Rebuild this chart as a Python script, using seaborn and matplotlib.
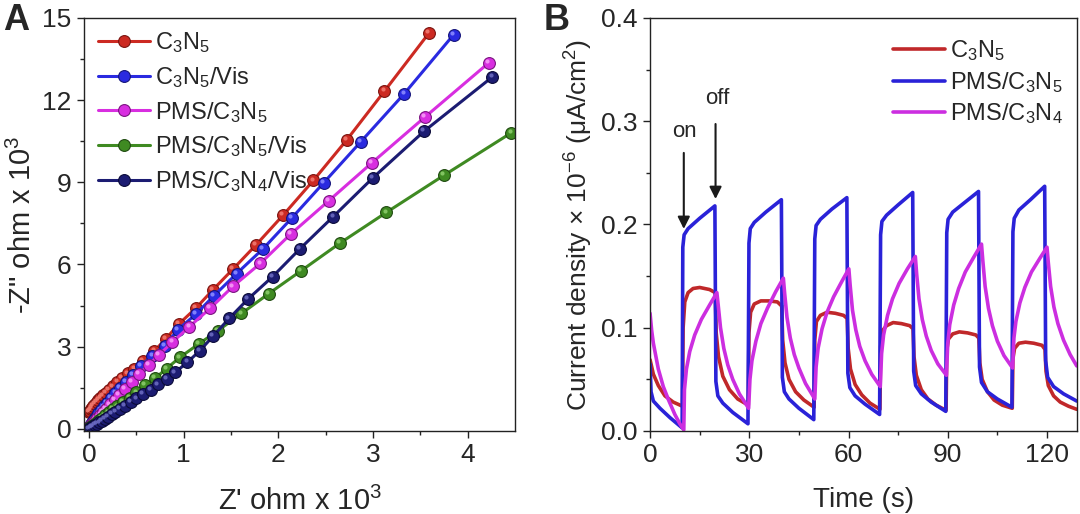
import matplotlib
matplotlib.use("Agg")
import matplotlib.pyplot as plt
from matplotlib.transforms import ScaledTranslation
import seaborn as sns
import pandas as pd

# ---------------- panel A: Nyquist plots (Z' vs -Z'', x 10^3 ohm)
red_x = [0.00, 0.01, 0.02, 0.03, 0.045, 0.06, 0.08, 0.10, 0.12, 0.15, 0.18, 0.21, 0.25, 0.30, 0.35,
         0.41, 0.48, 0.57, 0.69, 0.81, 0.95, 1.13, 1.31, 1.52, 1.76, 2.05, 2.37, 2.72, 3.12, 3.59]
red_y = [0.62, 0.66, 0.71, 0.76, 0.83, 0.90, 0.98, 1.05, 1.12, 1.22, 1.32, 1.42, 1.55, 1.70, 1.86,
         2.02, 2.20, 2.49, 2.84, 3.28, 3.83, 4.41, 5.08, 5.83, 6.70, 7.80, 9.07, 10.54, 12.33, 14.45]

blue_x = [0.00, 0.01, 0.02, 0.03, 0.045, 0.06, 0.08, 0.10, 0.13, 0.16, 0.19, 0.23, 0.28, 0.33, 0.39,
          0.46, 0.55, 0.67, 0.80, 0.94, 1.13, 1.32, 1.56, 1.84, 2.14, 2.48, 2.87, 3.33, 3.85]
blue_y = [0.07, 0.11, 0.16, 0.22, 0.30, 0.38, 0.48, 0.58, 0.70, 0.82, 0.96, 1.12, 1.30, 1.50, 1.72,
          1.98, 2.31, 2.67, 3.04, 3.62, 4.19, 4.86, 5.67, 6.58, 7.69, 8.99, 10.48, 12.24, 14.39]

mag_x = [0.00, 0.01, 0.02, 0.035, 0.05, 0.07, 0.09, 0.12, 0.15, 0.18, 0.22, 0.27, 0.32, 0.38, 0.45,
         0.53, 0.63, 0.74, 0.88, 1.06, 1.28, 1.52, 1.81, 2.13, 2.53, 2.99, 3.55, 4.22]
mag_y = [0.05, 0.08, 0.13, 0.19, 0.25, 0.33, 0.41, 0.51, 0.62, 0.74, 0.89, 1.06, 1.25, 1.47, 1.72,
         2.00, 2.33, 2.70, 3.16, 3.73, 4.40, 5.20, 6.04, 7.11, 8.32, 9.72, 11.39, 13.36]

green_x = [0.00, 0.015, 0.03, 0.045, 0.065, 0.085, 0.11, 0.14, 0.17, 0.21, 0.25, 0.30, 0.36, 0.43,
           0.50, 0.59, 0.70, 0.82, 0.96, 1.16, 1.36, 1.61, 1.90, 2.24, 2.65, 3.14, 3.75, 4.46]
green_y = [0.03, 0.06, 0.10, 0.14, 0.19, 0.25, 0.32, 0.40, 0.49, 0.60, 0.72, 0.82, 0.97, 1.14,
           1.33, 1.60, 1.85, 2.20, 2.61, 3.10, 3.58, 4.21, 4.94, 5.77, 6.78, 7.90, 9.26, 10.81]

navy_x = [0.00, 0.015, 0.03, 0.045, 0.065, 0.085, 0.11, 0.135, 0.165, 0.20, 0.24, 0.28, 0.33, 0.38,
          0.44, 0.50, 0.57, 0.65, 0.73, 0.82, 0.91, 1.04, 1.17, 1.31, 1.48, 1.68, 1.94, 2.23, 2.58,
          3.00, 3.54, 4.26]
navy_y = [0.00, 0.03, 0.06, 0.09, 0.13, 0.18, 0.23, 0.29, 0.36, 0.44, 0.53, 0.62, 0.73, 0.84,
          0.97, 1.11, 1.26, 1.43, 1.62, 1.82, 2.06, 2.43, 2.85, 3.38, 4.03, 4.74, 5.56, 6.58, 7.75,
          9.17, 10.87, 12.85]

# ---------------- panel B: photocurrent response
blue_t = [0.0, 0.3, 1.0, 3.0, 6.0, 9.7,
          9.9, 10.3, 11.5, 15.0, 19.6,
          19.9, 20.5, 22.0, 25.0, 29.6,
          29.9, 30.3, 31.5, 35.0, 39.7,
          40.0, 40.6, 42.0, 45.0, 49.5,
          49.8, 50.2, 51.5, 55.0, 59.5,
          59.8, 60.4, 62.0, 65.0, 69.4,
          69.7, 70.1, 71.5, 75.0, 79.4,
          79.7, 80.3, 82.0, 85.0, 89.4,
          89.7, 90.1, 91.5, 95.0, 99.3,
          99.6, 100.2, 102.0, 105.0, 109.4,
          109.7, 110.1, 111.5, 115.0, 119.3,
          119.6, 120.2, 122.0, 125.0, 129.0]
blue_j = [0.065, 0.038, 0.029, 0.022, 0.013, 0.003,
          0.178, 0.190, 0.196, 0.206, 0.218,
          0.048, 0.034, 0.027, 0.018, 0.007,
          0.182, 0.196, 0.202, 0.212, 0.224,
          0.052, 0.038, 0.031, 0.022, 0.011,
          0.186, 0.199, 0.205, 0.215, 0.226,
          0.056, 0.042, 0.034, 0.026, 0.016,
          0.190, 0.203, 0.209, 0.219, 0.231,
          0.058, 0.044, 0.036, 0.028, 0.019,
          0.192, 0.205, 0.212, 0.221, 0.232,
          0.062, 0.047, 0.038, 0.031, 0.023,
          0.193, 0.206, 0.214, 0.224, 0.237,
          0.068, 0.052, 0.043, 0.036, 0.029]

red_t = [0.0, 1.0, 2.5, 4.5, 7.0, 9.8,
         10.0, 10.5, 11.5, 13.0, 15.0, 18.0, 19.7,
         20.0, 20.7, 22.0, 24.0, 26.5, 29.7,
         29.9, 30.4, 31.5, 33.5, 36.0, 38.5, 39.8,
         40.1, 40.8, 42.0, 44.0, 46.5, 49.6,
         49.8, 50.3, 51.5, 53.5, 56.0, 58.5, 59.6,
         59.9, 60.6, 62.0, 64.0, 66.5, 69.5,
         69.7, 70.2, 71.5, 73.5, 76.0, 78.5, 79.5,
         79.8, 80.5, 82.0, 84.0, 86.5, 89.5,
         89.7, 90.2, 91.5, 93.5, 96.0, 98.5, 99.4,
         99.7, 100.4, 102.0, 104.0, 106.5, 109.5,
         109.7, 110.2, 111.5, 113.5, 116.0, 118.5, 119.4,
         119.7, 120.4, 122.0, 124.0, 126.5, 129.0]
red_j = [0.069, 0.055, 0.044, 0.034, 0.028, 0.024,
         0.100, 0.125, 0.134, 0.138, 0.139, 0.137, 0.134,
         0.095, 0.072, 0.053, 0.040, 0.031, 0.025,
         0.095, 0.115, 0.123, 0.126, 0.126, 0.125, 0.121,
         0.088, 0.066, 0.050, 0.038, 0.030, 0.023,
         0.088, 0.106, 0.112, 0.115, 0.114, 0.112, 0.109,
         0.080, 0.060, 0.045, 0.035, 0.027, 0.021,
         0.082, 0.097, 0.102, 0.105, 0.104, 0.102, 0.099,
         0.072, 0.054, 0.040, 0.031, 0.025, 0.020,
         0.078, 0.089, 0.094, 0.096, 0.095, 0.093, 0.090,
         0.066, 0.050, 0.038, 0.030, 0.025, 0.022,
         0.070, 0.080, 0.085, 0.086, 0.085, 0.083, 0.079,
         0.058, 0.044, 0.034, 0.028, 0.024, 0.021]

mag_t = [0.0, 0.5, 1.0, 2.5, 4.0, 5.6, 7.5, 9.0, 10.2,
         10.4, 11.0, 12.0, 13.5, 15.5, 18.0, 20.2,
         20.6, 21.3, 22.3, 23.5, 25.0, 27.0, 29.8,
         30.2, 30.8, 32.0, 33.5, 35.5, 38.0, 40.3,
         40.7, 41.4, 42.4, 43.6, 45.0, 47.0, 49.8,
         50.2, 50.8, 52.0, 53.5, 55.5, 58.0, 60.1,
         60.5, 61.2, 62.2, 63.4, 65.0, 67.0, 69.6,
         70.0, 70.6, 71.8, 73.3, 75.3, 77.8, 80.2,
         80.6, 81.3, 82.3, 83.5, 85.0, 87.0, 89.6,
         90.0, 90.6, 91.8, 93.3, 95.3, 97.8, 100.2,
         100.6, 101.3, 102.3, 103.5, 105.0, 107.0, 109.6,
         110.0, 110.6, 111.8, 113.3, 115.3, 117.8, 120.0,
         120.4, 121.1, 122.1, 123.3, 125.0, 127.0, 129.0]
mag_j = [0.114, 0.097, 0.085, 0.060, 0.043, 0.030, 0.016, 0.007, 0.001,
         0.040, 0.060, 0.077, 0.093, 0.108, 0.122, 0.134,
         0.122, 0.100, 0.080, 0.064, 0.050, 0.036, 0.022,
         0.050, 0.068, 0.087, 0.104, 0.119, 0.135, 0.148,
         0.133, 0.110, 0.090, 0.074, 0.061, 0.046, 0.031,
         0.062, 0.080, 0.099, 0.115, 0.130, 0.145, 0.157,
         0.141, 0.117, 0.098, 0.082, 0.068, 0.055, 0.043,
         0.075, 0.093, 0.112, 0.128, 0.143, 0.157, 0.169,
         0.152, 0.128, 0.108, 0.092, 0.078, 0.065, 0.054,
         0.085, 0.103, 0.122, 0.138, 0.154, 0.168, 0.181,
         0.165, 0.140, 0.119, 0.102, 0.087, 0.073, 0.061,
         0.090, 0.106, 0.124, 0.139, 0.154, 0.167, 0.178,
         0.163, 0.140, 0.120, 0.104, 0.088, 0.074, 0.063]

# label, x, y, face colour, edge colour, highlight colour
nyquist = [
    ("C$_3$N$_5$", red_x, red_y, "#cc2a22", "#7a1410", "#f07a70"),
    ("C$_3$N$_5$/Vis", blue_x, blue_y, "#2a2ae0", "#14147a", "#8a8aff"),
    ("PMS/C$_3$N$_5$", mag_x, mag_y, "#d82ee0", "#7a1480", "#f79af7"),
    ("PMS/C$_3$N$_5$/Vis", green_x, green_y, "#3f8a22", "#1f4a10", "#8acb6a"),
    ("PMS/C$_3$N$_4$/Vis", navy_x, navy_y, "#1c1c72", "#0a0a38", "#6a6ac0"),
]
photo = [
    ("C$_3$N$_5$", red_t, red_j, "#c0282a"),
    ("PMS/C$_3$N$_5$", blue_t, blue_j, "#2a22d8"),
    ("PMS/C$_3$N$_4$", mag_t, mag_j, "#cc2ee0"),
]

sns.set_theme(style="ticks")
plt.rcParams["font.family"] = ["Liberation Sans", "DejaVu Sans"]
plt.rcParams["mathtext.default"] = "regular"
plt.rcParams["axes.linewidth"] = 1.0
plt.rcParams["axes.edgecolor"] = "#222222"

fig = plt.figure(figsize=(10.8, 5.14), dpi=100)
axA = fig.add_axes([0.078, 0.1615, 0.399, 0.8035])
axB = fig.add_axes([0.6019, 0.1615, 0.3951, 0.8035])

################################################################################

shine = ScaledTranslation(-1.3 / 72, 1.3 / 72, fig.dpi_scale_trans)
for label, xs, ys, col, edge, hi in nyquist:
    df = pd.DataFrame({"x": xs, "y": ys})
    sns.lineplot(data=df, x="x", y="y", sort=False, ax=axA, color=col, lw=2.2,
                 marker="o", markersize=8.5, markeredgecolor=edge, markeredgewidth=0.8,
                 label=label)
    # little specular spot so the markers look like the shaded balls of the original
    axA.plot(xs, ys, "o", ms=3, color=hi, mec="none", alpha=0.9,
             transform=axA.transData + shine)

axA.set_xlim(-0.05, 4.5)
axA.set_ylim(-0.08, 15)
axA.set_xticks([0, 1, 2, 3, 4])
axA.set_yticks([0, 3, 6, 9, 12, 15])
axA.set_xticks([0.5, 1.5, 2.5, 3.5], minor=True)
axA.set_yticks([1.5, 4.5, 7.5, 10.5, 13.5], minor=True)
axA.set_xlabel("Z' ohm x 10$^3$", fontsize=21, labelpad=14)
axA.set_ylabel('-Z" ohm x 10$^3$', fontsize=21, labelpad=4)
axA.legend(loc="upper left", frameon=False, fontsize=17, handlelength=2.2,
           labelspacing=0.42, handletextpad=0.2, borderaxespad=0.2,
           bbox_to_anchor=(0.0, 1.005))

################################################################################

for label, ts, js, col in photo:
    df = pd.DataFrame({"t": ts, "j": js})
    sns.lineplot(data=df, x="t", y="j", sort=False, ax=axB, color=col, lw=2.6, label=label)

axB.annotate("", xy=(10.2, 0.193), xytext=(10.2, 0.272),
             arrowprops=dict(arrowstyle="-|>", color="k", lw=1.5, mutation_scale=18))
axB.annotate("", xy=(19.8, 0.222), xytext=(19.8, 0.300),
             arrowprops=dict(arrowstyle="-|>", color="k", lw=1.5, mutation_scale=18))
axB.text(10.3, 0.290, "on", ha="center", va="center", fontsize=16)
axB.text(20.3, 0.322, "off", ha="center", va="center", fontsize=16)

axB.set_xlim(0, 129)
axB.set_ylim(0, 0.4)
axB.set_xticks([0, 30, 60, 90, 120])
axB.set_xticks([15, 45, 75, 105], minor=True)
axB.set_yticks([0.0, 0.1, 0.2, 0.3, 0.4])
axB.set_yticks([0.05, 0.15, 0.25, 0.35], minor=True)
axB.set_xlabel("Time (s)", fontsize=20, labelpad=14)
axB.set_ylabel("Current density × 10$^{-6}$ (μA/cm$^2$)", fontsize=19, labelpad=4)
axB.legend(loc="upper right", frameon=False, fontsize=17, handlelength=2.2,
           labelspacing=0.28, handletextpad=0.2, borderaxespad=0.2,
           bbox_to_anchor=(1.0, 0.985))

for ax in (axA, axB):
    ax.yaxis.set_major_formatter(matplotlib.ticker.FormatStrFormatter("%g" if ax is axA else "%.1f"))
    ax.tick_params(axis="both", which="major", direction="out", length=5, width=1,
                   labelsize=19, pad=4, color="#222222")
    ax.tick_params(axis="both", which="minor", direction="out", length=3, width=1,
                   color="#222222")
    for s in ax.spines.values():
        s.set_visible(True)

fig.text(0.003, 0.995, "A", fontsize=26, fontweight="bold", va="top", ha="left")
fig.text(0.503, 0.995, "B", fontsize=26, fontweight="bold", va="top", ha="left")

fig.savefig("out.png", dpi=100)
